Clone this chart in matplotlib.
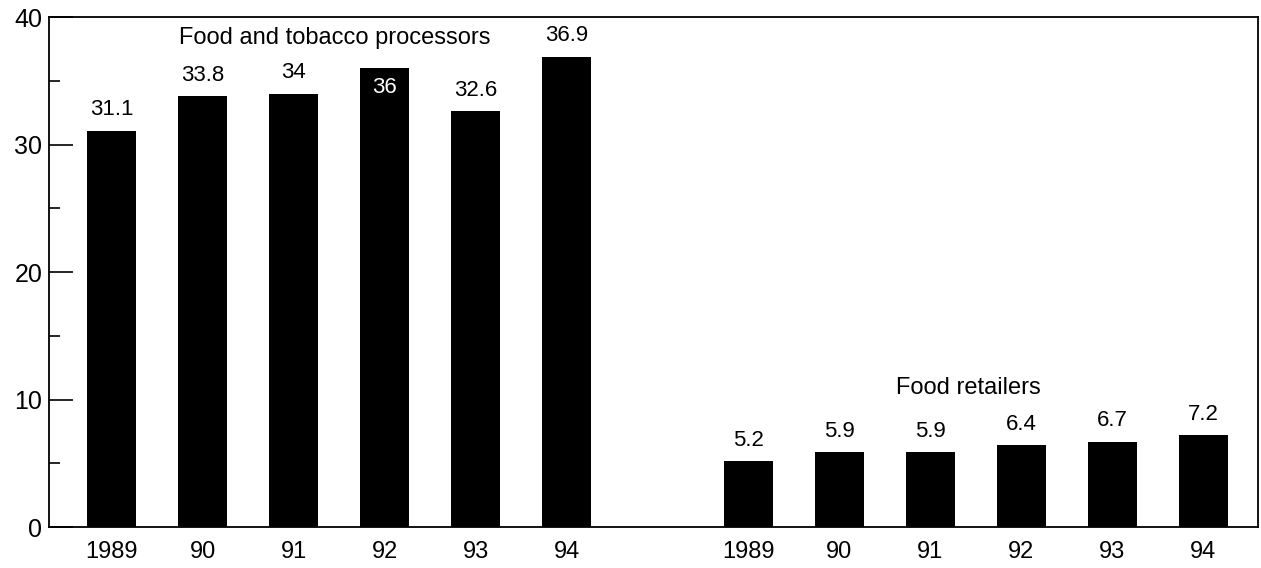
import numpy as np
import matplotlib.pyplot as plt
from matplotlib.ticker import MultipleLocator

plt.rcParams['font.family'] = ['Liberation Sans', 'DejaVu Sans']

years = ['1989', '90', '91', '92', '93', '94']
processors = [31.1, 33.8, 34, 36, 32.6, 36.9]
retailers = [5.2, 5.9, 5.9, 6.4, 6.7, 7.2]

x1 = np.arange(len(years))
x2 = x1 + 7

fig = plt.figure(figsize=(12.61, 5.68), dpi=100)
ax = fig.add_axes([0.039, 0.072, 0.9585, 0.898])

ax.bar(x1, processors, 0.54, color='black')
ax.bar(x2, retailers, 0.54, color='black')

ax.set_xlim(-0.69, 12.6)
ax.set_ylim(0, 40)
ax.yaxis.set_major_locator(MultipleLocator(10))
ax.yaxis.set_minor_locator(MultipleLocator(5))
ax.tick_params(axis='y', which='major', direction='in', length=17, width=1.2,
               labelsize=18, pad=5)
ax.tick_params(axis='y', which='minor', direction='in', length=8, width=1.2)
ax.set_xticks(np.concatenate([x1, x2]))
ax.set_xticklabels(years + years)
ax.tick_params(axis='x', length=0, labelsize=17, pad=10)
for s in ax.spines.values():
    s.set_linewidth(1.3)

# value labels; the 1992 processors value sits inside its bar
for xi, v in zip(x1, processors):
    if v == 36:
        ax.text(xi, v - 1.5, '36', ha='center', va='center', color='white', fontsize=16)
    else:
        ax.text(xi, v + 0.8, f'{v:g}', ha='center', va='bottom', fontsize=16)
for xi, v in zip(x2, retailers):
    ax.text(xi, v + 0.8, f'{v:g}', ha='center', va='bottom', fontsize=16)

ax.text(0.74, 38.35, 'Food and tobacco processors', ha='left', va='center', fontsize=17)
ax.text(9.42, 10.9, 'Food retailers', ha='center', va='center', fontsize=17)

fig.savefig('out.png', dpi=100)
